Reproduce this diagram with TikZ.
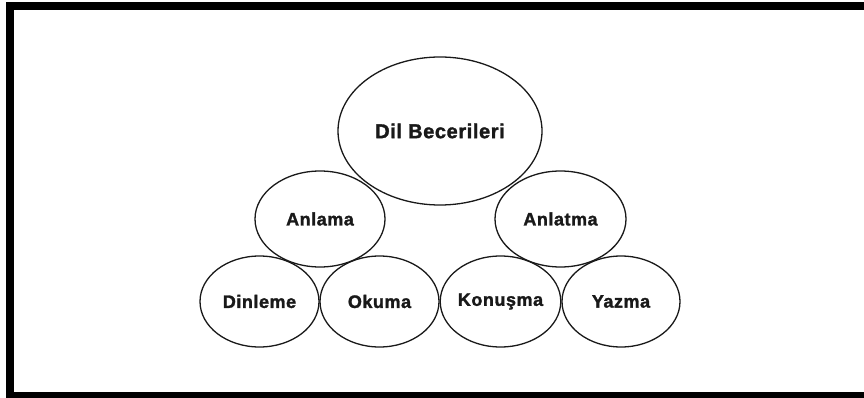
\documentclass[tikz,border=0pt]{standalone}
\usepackage{fontspec}
\usetikzlibrary{shapes.geometric}
\newfontfamily\lblfont[LetterSpace=3,BoldFeatures={FakeBold=1.6}]{Liberation Sans}
\tikzset{
  bubble/.style={ellipse, draw=black!90, line width=1.3pt, inner sep=0pt,
    font=\lblfont\bfseries\fontsize{18}{20}\selectfont, text=black!90},
  bigbubble/.style={bubble, font=\lblfont\bfseries\fontsize{20}{22}\selectfont},
  framebar/.style={fill=black, draw=none}
}
\begin{document}
\begin{tikzpicture}[x=1pt,y=-1pt]
\useasboundingbox (0,0) rectangle (864,398);
\fill[white] (0,0) rectangle (864,398);
% frame
\fill[framebar] (6,2) rectangle (864,10.5);
\fill[framebar] (6,2) rectangle (14,398);
\fill[framebar] (6,392) rectangle (864,398);
% ellipses
\node[bigbubble, minimum width=204pt, minimum height=148pt] (dil) at (440,131) {Dil Becerileri};
\node[bubble, minimum width=130pt, minimum height=96pt] (anlama) at (320,219) {Anlama};
\node[bubble, minimum width=131pt, minimum height=96pt] (anlatma) at (560.5,219) {Anlatma};
\node[bubble, minimum width=119pt, minimum height=91pt] (dinleme) at (259.5,301.5) {Dinleme};
\node[bubble, minimum width=119pt, minimum height=91pt] (okuma) at (379.5,301.5) {Okuma};
\node[bubble, minimum width=119pt, minimum height=91pt] (konusma) at (500.5,301.5) {Konuşma};
\node[bubble, minimum width=118pt, minimum height=91pt] (yazma) at (621,301.5) {Yazma};
\end{tikzpicture}
\end{document}
